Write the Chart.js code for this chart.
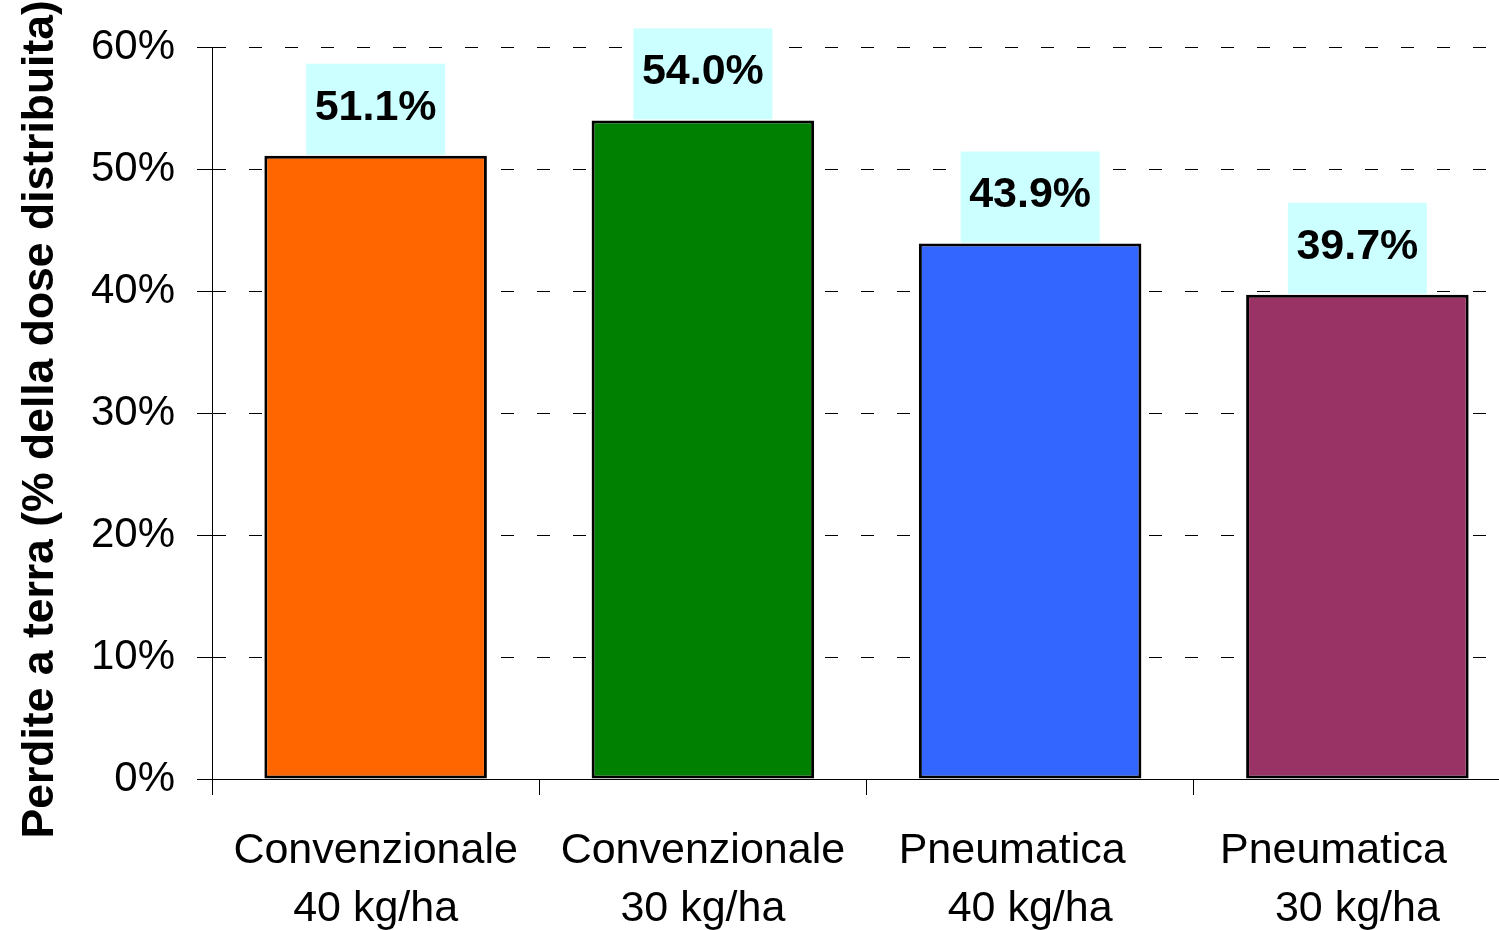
<!DOCTYPE html>
<html>
<head>
<meta charset="utf-8">
<script src="https://cdn.jsdelivr.net/npm/chart.js@4.4.1/dist/chart.umd.min.js"></script>
<style>
    html, body { margin: 0; padding: 0; overflow: hidden; background: #fff; }
    #wrap { width: 1531px; height: 930px; }
</style>
</head>
<body>
<div id="wrap"><canvas id="chart1"></canvas></div>
<script>
const categories = [
    ['Convenzionale', '40 kg/ha'],
    ['Convenzionale', '30 kg/ha'],
    ['Pneumatica   ', '40 kg/ha'],
    ['Pneumatica    ', '30 kg/ha']
]
const losses = [51.1, 54.0, 43.9, 39.7]
const barColors = ['#FF6600', '#008000', '#3366FF', '#993366']
const yTicks = [0, 10, 20, 30, 40, 50, 60]

const fontFamily = "'Liberation Sans', Arial, sans-serif"

// draws the cyan value boxes above each bar
const valueBoxes = {
    id: 'valueBoxes',
    afterDatasetsDraw(chart) {
        const ctx = chart.ctx
        const meta = chart.getDatasetMeta(0)
        ctx.save()
        meta.data.forEach((bar, i) => {
            const w = 139, h = 91
            const left = bar.x - w / 2
            const top = bar.y - 1 - h
            ctx.fillStyle = '#CCFFFF'
            ctx.fillRect(left, top, w, h)
            ctx.fillStyle = '#000'
            ctx.font = 'bold 43px ' + fontFamily
            ctx.textAlign = 'center'
            ctx.textBaseline = 'middle'
            ctx.fillText(losses[i].toFixed(1) + '%', bar.x, top + 44)
        })
        ctx.restore()
    }
}

const ctx = document.querySelector('#chart1').getContext('2d')
const chart1 = new Chart(ctx, {
    type: 'bar',
    data: {
        labels: categories,
        datasets: [{
            data: losses,
            backgroundColor: barColors,
            borderColor: '#000',
            borderWidth: 3,
            borderSkipped: false,
            categoryPercentage: 1,
            barPercentage: 0.68
        }]
    },
    plugins: [valueBoxes],
    options: {
        responsive: true,
        maintainAspectRatio: false,
        animation: false,
        layout: {
            padding: { top: 46, right: 10, left: 0, bottom: 0 }
        },
        plugins: {
            legend: { display: false },
            tooltip: { enabled: false }
        },
        scales: {
            x: {
                afterFit(scale) { scale.height = 151 },
                grid: {
                    display: true,
                    drawOnChartArea: false,
                    offset: true,
                    color: '#000',
                    tickLength: 16
                },
                border: { display: true, color: '#000', width: 1 },
                ticks: {
                    color: '#000',
                    padding: 28,
                    maxRotation: 0,
                    autoSkip: false,
                    font: { family: fontFamily, size: 43, lineHeight: 1.33 }
                }
            },
            y: {
                min: 0,
                max: 60,
                afterFit(scale) { scale.width = 212 },
                afterBuildTicks(scale) {
                    scale.ticks = yTicks.map(v => ({ value: v }))
                },
                grid: {
                    color: '#000',
                    lineWidth: 1,
                    tickLength: 15,
                    tickColor: '#000'
                },
                border: { display: true, color: '#000', width: 1, dash: [13, 23] },
                ticks: {
                    color: '#000',
                    padding: 22,
                    callback: v => v + '%',
                    font: { family: fontFamily, size: 42 }
                },
                title: {
                    display: true,
                    text: 'Perdite a terra (% della dose distribuita) ',
                    color: '#000',
                    padding: { top: 14, bottom: 0 },
                    font: { family: fontFamily, size: 44.5, weight: 'bold', lineHeight: 1.2 }
                }
            }
        }
    }
})
</script>
</body>
</html>
